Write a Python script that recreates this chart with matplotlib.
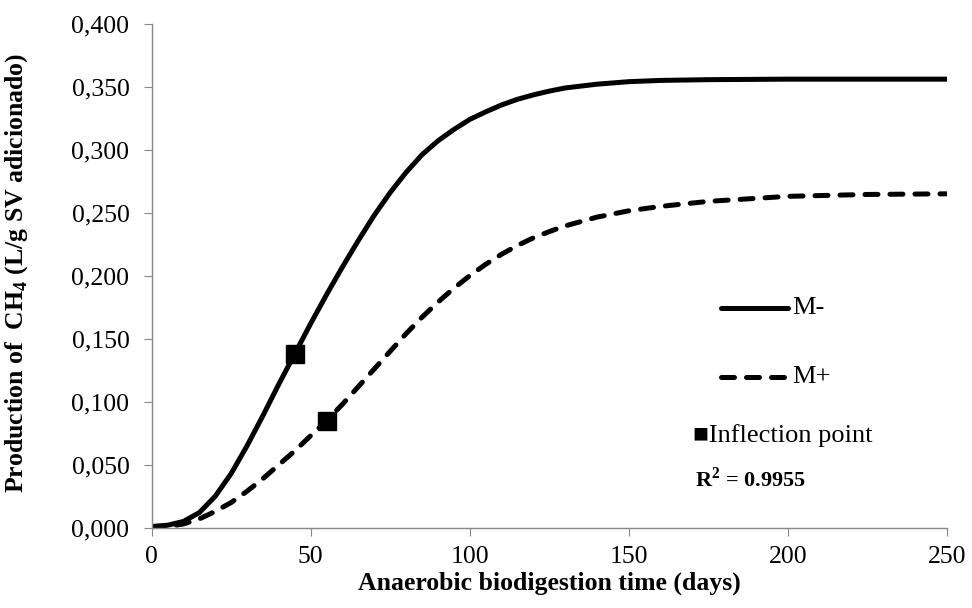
import matplotlib.pyplot as plt

plt.rcParams['font.family'] = ['Liberation Serif', 'DejaVu Serif']
plt.rcParams['mathtext.fontset'] = 'custom'
plt.rcParams['mathtext.rm'] = 'Liberation Serif'
plt.rcParams['mathtext.bf'] = 'Liberation Serif:bold'

days = [0, 5, 10, 15, 20, 25, 30, 35, 40, 45, 50, 55, 60, 65, 70, 75, 80, 85, 90, 95,
        100, 105, 110, 115, 120, 125, 130, 140, 150, 160, 175, 200, 225, 250]
m_minus = [0.001, 0.002, 0.005, 0.012, 0.025, 0.043, 0.065, 0.089, 0.114, 0.138, 0.162,
           0.185, 0.207, 0.228, 0.248, 0.266, 0.282, 0.296, 0.307, 0.316, 0.324, 0.330,
           0.3355, 0.340, 0.3435, 0.3465, 0.349, 0.352, 0.354, 0.355, 0.3556, 0.356,
           0.356, 0.356]
m_plus = [0.000, 0.001, 0.003, 0.007, 0.013, 0.020, 0.029, 0.039, 0.050, 0.061, 0.073,
          0.085, 0.098, 0.112, 0.126, 0.140, 0.154, 0.167, 0.179, 0.190, 0.200, 0.209,
          0.217, 0.224, 0.230, 0.235, 0.2395, 0.2465, 0.2515, 0.255, 0.259, 0.263,
          0.2645, 0.265]

# inflection points (day, value)
infl_x = [45, 55]
infl_y = [0.138, 0.085]

dash = (0, (2.6, 2.4))

fig = plt.figure(figsize=(9.72, 6.08), dpi=100)
ax = fig.add_axes([0.156, 0.132, 0.818, 0.829])

ax.plot(days, m_minus, color='black', lw=3.6, solid_capstyle='round', solid_joinstyle='round')
ax.plot(days, m_plus, color='black', lw=3.6, linestyle=dash, dash_capstyle='round')
ax.plot(infl_x, infl_y, 's', color='black', markersize=12.5)

ax.set_xlim(0, 250)
ax.set_ylim(0, 0.4)
ax.set_xticks([0, 50, 100, 150, 200, 250])
ax.set_yticks([i * 0.05 for i in range(9)])
ax.set_yticklabels([f'{i * 0.05:.3f}'.replace('.', ',') for i in range(9)])
ax.tick_params(labelsize=18.5, direction='out', length=6, color='#888888')
ax.tick_params(axis='y', pad=10)
ax.tick_params(axis='x', pad=7)

for s in ['top', 'right']:
    ax.spines[s].set_visible(False)
for s in ['left', 'bottom']:
    ax.spines[s].set_color('#888888')
    ax.spines[s].set_linewidth(1)

ax.set_xlabel('Anaerobic biodigestion time (days)', fontsize=18.5, fontweight='bold',
              labelpad=3)
ax.set_ylabel('Production of  CH$_\\mathbf{4}$ (L/g SV adicionado)', fontsize=18.5,
              fontweight='bold')
ax.yaxis.set_label_coords(-0.153, 0.505)

# legend drawn by hand
ax.plot([179, 200], [0.174, 0.174], color='black', lw=3.6, solid_capstyle='round')
ax.text(201.5, 0.174, 'M-', fontsize=19, va='center')
ax.plot([179, 200], [0.120, 0.120], color='black', lw=3.6, linestyle=dash,
        dash_capstyle='round')
ax.text(201.5, 0.120, 'M+', fontsize=19, va='center')
ax.text(170.3, 0.073, '\u25a0Inflection point', fontsize=19, va='center')
ax.text(171, 0.038, 'R$^\\mathbf{2}$ = 0.9955', fontsize=16, fontweight='bold', va='center')

fig.savefig('out.png', dpi=100)
